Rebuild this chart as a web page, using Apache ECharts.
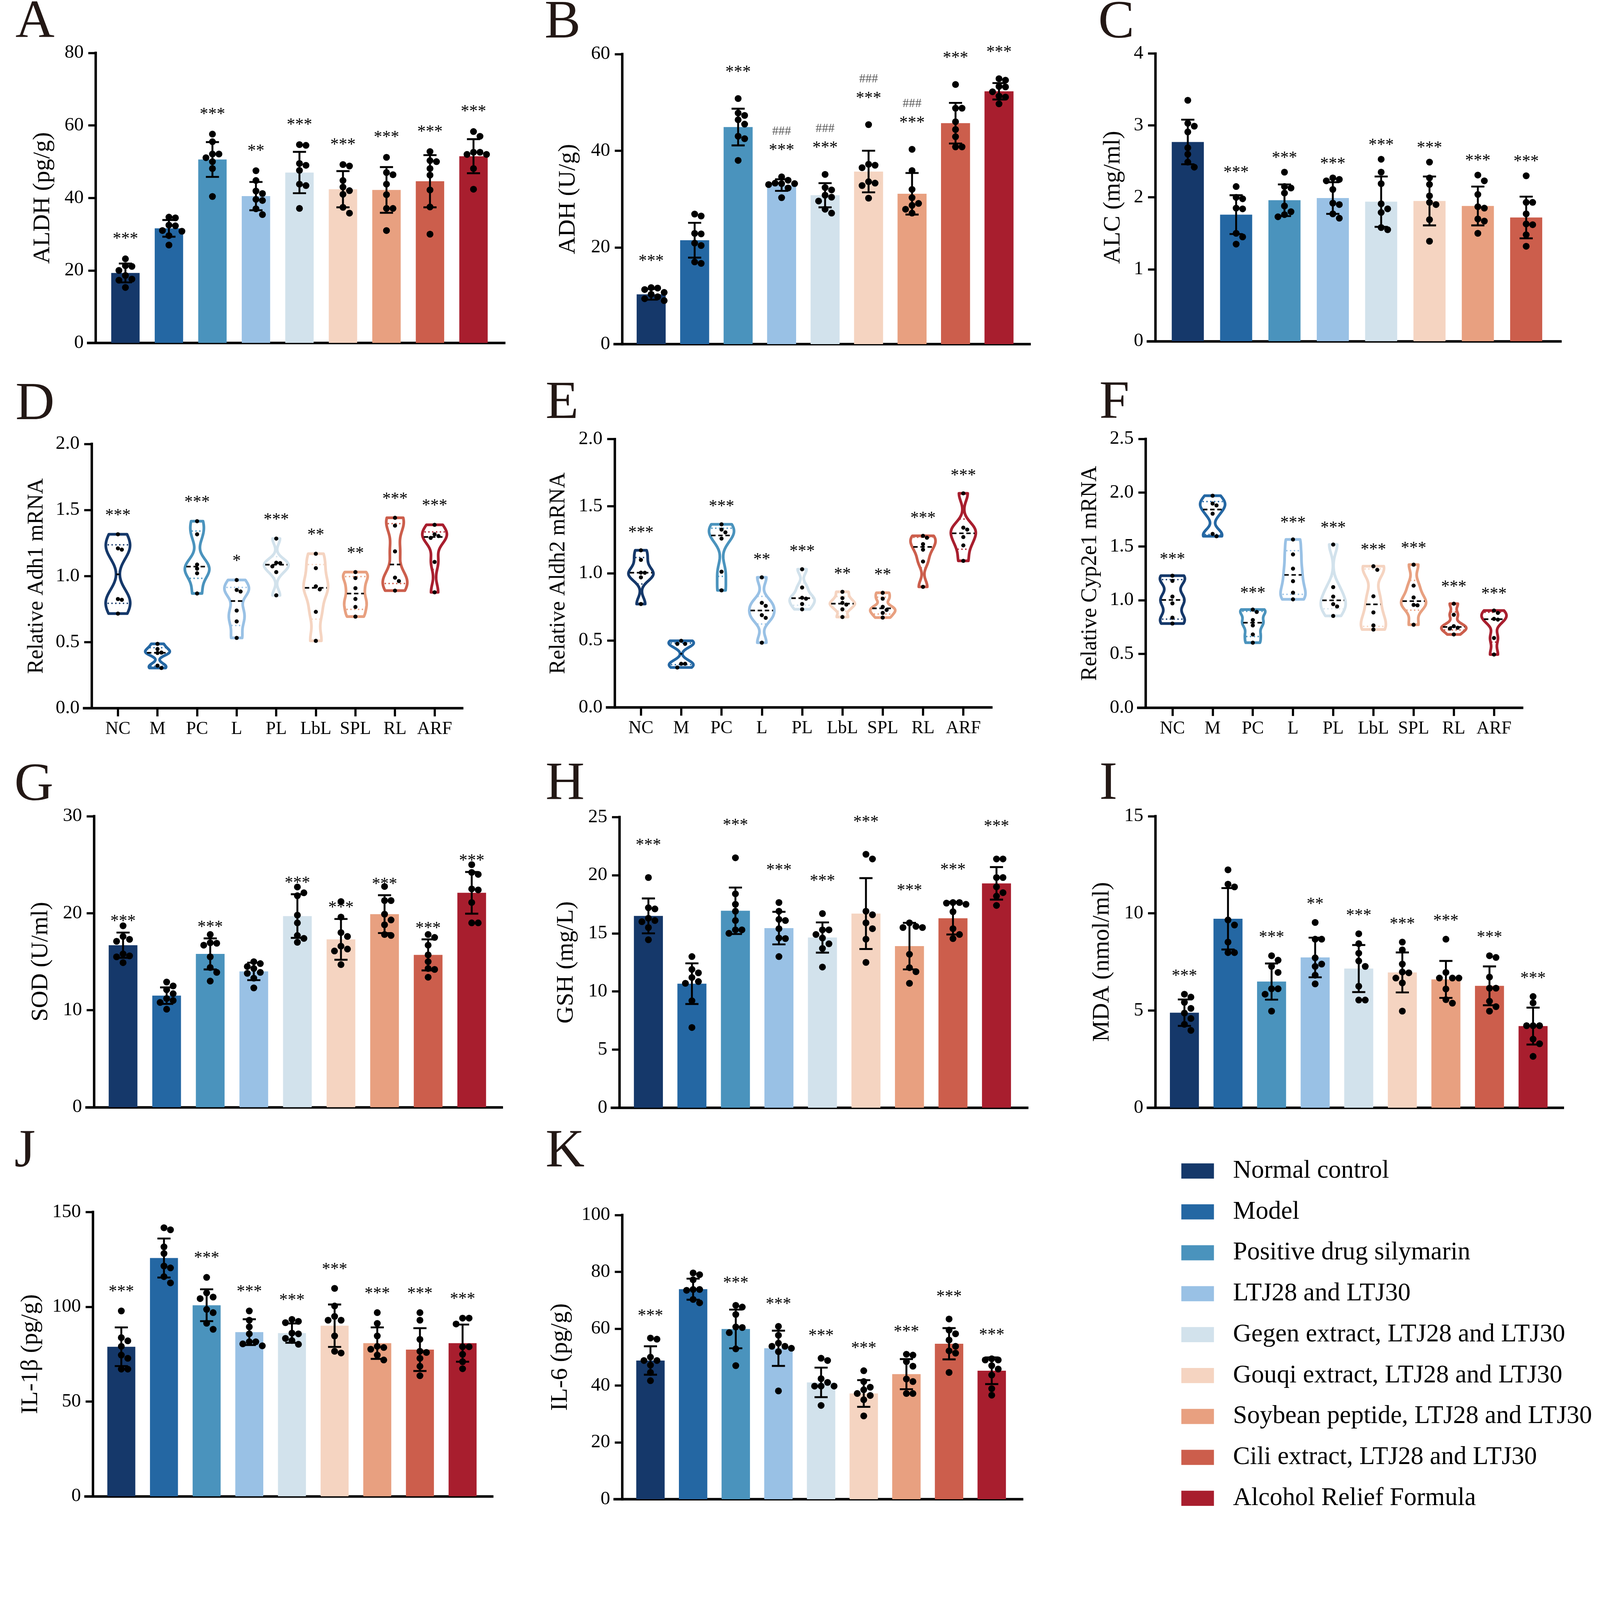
<!DOCTYPE html>
<html>
<head>
<meta charset="UTF-8">
<title>Alcohol relief markers</title>
<script src="https://cdn.jsdelivr.net/npm/echarts@6/dist/echarts.min.js"></script>
<style>
  html, body { margin: 0; padding: 0; background: #fff; overflow: hidden; }
  #main { width: 100vw; height: 100vh; }
</style>
</head>
<body>
<div id="main"></div>
<script>
// groups
var groupNames = ['Normal control', 'Model', 'Positive drug silymarin', 'LTJ28 and LTJ30',
  'Gegen extract, LTJ28 and LTJ30', 'Gouqi extract, LTJ28 and LTJ30',
  'Soybean peptide, LTJ28 and LTJ30', 'Cili extract, LTJ28 and LTJ30', 'Alcohol Relief Formula'];
var groupShort = ['NC', 'M', 'PC', 'L', 'PL', 'LbL', 'SPL', 'RL', 'ARF'];
var groupColors = ['#15386a', '#2467a3', '#4a93bd', '#99c1e5', '#d2e2ec', '#f5d4c1', '#e8a080', '#cc5e4c', '#a81e2e'];

// A - ALDH
var aldhMean = [19.3, 31.6, 50.6, 40.5, 47.0, 42.4, 42.2, 44.6, 51.5];
var aldhSd = [2.6, 2.3, 4.8, 3.9, 5.7, 5.0, 6.3, 7.2, 4.7];
var aldhPts = [
  [23.2, 21.3, 21.1, 20.0, 18.6, 17.6, 17.3, 15.3],
  [34.7, 34.5, 32.5, 32.3, 31.0, 30.8, 29.6, 27.0],
  [57.6, 55.5, 52.1, 52.1, 51.1, 50.0, 48.1, 40.4],
  [47.5, 44.8, 41.9, 41.2, 39.6, 39.3, 37.0, 35.4],
  [54.7, 54.5, 49.5, 49.0, 47.6, 43.8, 43.4, 37.1],
  [49.2, 48.8, 44.8, 43.0, 42.0, 41.0, 37.4, 35.8],
  [51.2, 47.0, 46.4, 43.8, 40.9, 37.1, 37.1, 31.0],
  [52.8, 50.3, 50.0, 48.1, 46.3, 42.2, 37.5, 30.0],
  [58.3, 57.0, 52.6, 52.6, 52.0, 52.0, 48.1, 42.4]
];
var aldhSig = ['***', '', '***', '**', '***', '***', '***', '***', '***'];

// B - ADH
var adhMean = [10.3, 21.5, 44.9, 32.9, 30.8, 35.7, 31.1, 45.7, 52.3];
var adhSd = [1.1, 3.6, 3.8, 1.2, 2.5, 4.3, 4.3, 4.2, 1.7];
var adhPts = [
  [11.7, 11.6, 11.3, 10.7, 10.3, 9.8, 9.4, 9.0],
  [26.9, 26.5, 22.9, 22.8, 20.9, 20.4, 17.0, 16.7],
  [50.8, 47.8, 47.3, 46.4, 45.5, 43.0, 42.5, 38.0],
  [34.6, 33.9, 33.3, 33.2, 33.2, 33.0, 32.3, 30.3],
  [35.1, 32.4, 31.9, 30.8, 30.4, 29.6, 27.9, 27.1],
  [45.4, 37.2, 37.0, 36.5, 33.6, 33.3, 32.8, 30.2],
  [40.3, 35.9, 32.0, 30.3, 29.1, 28.7, 27.9, 27.1],
  [53.7, 48.8, 48.8, 46.0, 44.4, 42.9, 40.8, 40.8],
  [54.9, 54.6, 53.3, 53.2, 52.2, 51.3, 51.1, 49.7]
];
var adhSig = ['***', '', '***', '***', '***', '***', '***', '***', '***'];
var adhHash = ['', '', '', '###', '###', '###', '###', '', ''];

// C - ALC (no ARF group)
var alcMean = [2.77, 1.76, 1.96, 1.99, 1.94, 1.95, 1.88, 1.72];
var alcSd = [0.31, 0.27, 0.22, 0.22, 0.35, 0.34, 0.27, 0.29];
var alcPts = [
  [3.35, 3.03, 2.99, 2.91, 2.69, 2.60, 2.49, 2.42],
  [2.15, 2.00, 1.98, 1.85, 1.84, 1.50, 1.45, 1.35],
  [2.35, 2.15, 2.13, 2.06, 1.88, 1.80, 1.76, 1.73],
  [2.27, 2.25, 2.23, 2.11, 1.92, 1.90, 1.77, 1.71],
  [2.53, 2.35, 2.19, 1.91, 1.84, 1.79, 1.58, 1.55],
  [2.49, 2.27, 2.18, 2.02, 1.93, 1.90, 1.69, 1.39],
  [2.31, 2.23, 2.04, 1.87, 1.85, 1.70, 1.67, 1.50],
  [2.30, 1.93, 1.93, 1.77, 1.63, 1.62, 1.48, 1.32]
];
var alcSig = ['', '***', '***', '***', '***', '***', '***', '***'];

// D - Adh1 mRNA
var adh1Pts = [
  [1.316, 1.21, 1.20, 0.826, 0.82, 0.716],
  [0.487, 0.448, 0.421, 0.418, 0.322, 0.304],
  [1.415, 1.316, 1.087, 1.056, 1.021, 0.868],
  [0.970, 0.895, 0.883, 0.739, 0.657, 0.532],
  [1.284, 1.101, 1.098, 1.074, 1.030, 0.854],
  [1.169, 1.060, 0.922, 0.899, 0.729, 0.510],
  [1.030, 0.985, 0.908, 0.827, 0.766, 0.693],
  [1.441, 1.382, 1.187, 0.988, 0.962, 0.890],
  [1.388, 1.316, 1.303, 1.289, 1.107, 0.877]
];
var adh1Sig = ['***', '', '***', '*', '***', '**', '**', '***', '***'];

// E - Aldh2 mRNA
var aldh2Pts = [
  [1.171, 1.100, 1.005, 1.004, 0.970, 0.771],
  [0.497, 0.474, 0.474, 0.326, 0.326, 0.298],
  [1.365, 1.326, 1.305, 1.259, 1.012, 0.873],
  [0.970, 0.780, 0.757, 0.688, 0.668, 0.483],
  [1.030, 0.894, 0.818, 0.811, 0.771, 0.732],
  [0.862, 0.815, 0.780, 0.767, 0.732, 0.674],
  [0.855, 0.811, 0.750, 0.727, 0.705, 0.670],
  [1.279, 1.265, 1.217, 1.176, 1.088, 0.899],
  [1.596, 1.340, 1.326, 1.270, 1.208, 1.093]
];
var aldh2Sig = ['***', '', '***', '**', '***', '**', '**', '***', '***'];

// F - Cyp2e1 mRNA
var cypPts = [
  [1.228, 1.180, 1.034, 0.971, 0.838, 0.783],
  [1.972, 1.899, 1.882, 1.805, 1.617, 1.595],
  [0.913, 0.891, 0.816, 0.766, 0.682, 0.605],
  [1.565, 1.426, 1.294, 1.177, 1.070, 1.008],
  [1.518, 1.122, 1.034, 0.964, 0.942, 0.854],
  [1.316, 1.283, 1.037, 0.887, 0.766, 0.728],
  [1.331, 1.136, 1.026, 0.957, 0.953, 0.772],
  [0.968, 0.865, 0.759, 0.744, 0.737, 0.682],
  [0.904, 0.882, 0.827, 0.820, 0.649, 0.495]
];
var cypSig = ['***', '', '***', '***', '***', '***', '***', '***', '***'];

// G - SOD
var sodMean = [16.7, 11.5, 15.8, 14.0, 19.7, 17.3, 19.9, 15.7, 22.1];
var sodSd = [1.3, 0.85, 1.6, 0.9, 2.25, 2.1, 1.95, 1.6, 2.15];
var sodPts = [
  [18.7, 17.6, 17.3, 17.1, 15.8, 15.6, 15.5, 14.9],
  [12.9, 12.5, 12.1, 11.7, 11.2, 11.0, 10.8, 10.1],
  [17.8, 16.95, 16.9, 16.7, 15.5, 14.4, 13.9, 13.0],
  [15.0, 14.8, 14.5, 14.3, 13.9, 13.8, 13.3, 12.3],
  [22.7, 22.1, 21.8, 19.8, 19.0, 17.7, 17.4, 17.0],
  [21.2, 19.6, 18.0, 17.6, 16.6, 16.3, 16.1, 14.7],
  [22.75, 21.3, 21.3, 19.9, 19.3, 18.8, 17.8, 17.7],
  [17.8, 17.5, 16.7, 15.7, 15.0, 14.3, 14.2, 13.4],
  [25.0, 24.2, 24.0, 22.5, 22.4, 21.1, 19.0, 19.0]
];
var sodSig = ['***', '', '***', '', '***', '***', '***', '***', '***'];

// H - GSH
var gshMean = [16.5, 10.67, 16.94, 15.45, 14.64, 16.7, 13.9, 16.3, 19.3];
var gshSd = [1.5, 1.75, 2.0, 1.4, 1.3, 3.05, 2.0, 1.4, 1.4];
var gshPts = [
  [19.8, 17.2, 17.1, 16.3, 16.1, 16.0, 15.5, 14.45],
  [13.0, 11.9, 11.6, 11.2, 10.85, 10.7, 9.2, 6.9],
  [21.5, 18.4, 17.5, 16.9, 16.1, 15.3, 15.3, 15.0],
  [17.65, 16.9, 16.2, 16.1, 15.4, 14.6, 14.55, 13.0],
  [16.7, 15.3, 15.3, 14.9, 14.6, 14.1, 13.7, 12.1],
  [21.8, 21.4, 16.9, 16.6, 15.9, 15.4, 14.5, 12.5],
  [15.9, 15.6, 15.5, 15.5, 13.2, 12.05, 11.7, 10.7],
  [17.65, 17.65, 17.6, 17.5, 16.86, 15.4, 14.9, 14.55],
  [21.4, 21.4, 19.8, 19.8, 19.0, 18.5, 18.2, 17.4]
];
var gshSig = ['***', '', '***', '***', '***', '***', '***', '***', '***'];

// I - MDA
var mdaMean = [4.89, 9.72, 6.49, 7.73, 7.16, 6.96, 6.60, 6.27, 4.20];
var mdaSd = [0.68, 1.58, 0.93, 1.02, 1.21, 1.03, 0.95, 1.0, 0.95];
var mdaPts = [
  [5.84, 5.69, 5.42, 5.11, 4.87, 4.59, 4.29, 3.98],
  [12.24, 11.5, 11.36, 9.66, 9.40, 8.52, 7.98, 7.98],
  [7.82, 7.59, 7.27, 6.96, 6.12, 6.12, 5.84, 4.97],
  [9.53, 8.67, 8.67, 7.71, 7.39, 7.27, 6.82, 6.37],
  [8.95, 8.44, 7.95, 7.55, 7.27, 6.25, 5.54, 5.54],
  [8.52, 8.12, 7.39, 6.98, 6.94, 6.67, 6.42, 4.97],
  [8.67, 6.96, 6.67, 6.67, 6.67, 6.11, 5.56, 5.38],
  [7.82, 7.73, 6.72, 6.15, 6.15, 5.48, 5.20, 4.97],
  [5.72, 5.39, 4.22, 4.22, 4.22, 3.53, 3.29, 2.64]
];
var mdaSig = ['***', '', '***', '**', '***', '***', '***', '***', '***'];

// J - IL-1b
var il1bMean = [78.9, 125.7, 100.8, 86.6, 86.1, 90.0, 80.8, 77.4, 80.8];
var il1bSd = [10.2, 10.3, 8.4, 6.8, 5.1, 11.2, 8.3, 11.3, 9.8];
var il1bPts = [
  [97.8, 83.7, 82.0, 79.1, 74.5, 72.8, 67.1, 67.1],
  [141.7, 140.6, 131.6, 128.1, 121.5, 120.5, 115.9, 112.6],
  [115.5, 107.3, 105.1, 104.3, 98.6, 96.9, 91.3, 88.1],
  [97.8, 92.9, 89.4, 85.7, 81.5, 81.5, 80.4, 79.4],
  [93.3, 92.3, 91.6, 86.1, 85.7, 83.3, 82.2, 80.2],
  [109.7, 100.4, 94.9, 92.9, 92.9, 84.6, 76.5, 75.6],
  [96.9, 91.2, 84.6, 79.1, 78.5, 77.6, 74.5, 71.9],
  [96.9, 92.9, 82.8, 76.5, 75.9, 72.8, 68.6, 63.6],
  [94.0, 94.0, 90.9, 78.9, 78.9, 74.9, 71.0, 67.3]
];
var il1bSig = ['***', '', '***', '***', '***', '***', '***', '***', '***'];

// K - IL-6
var il6Mean = [48.8, 73.9, 59.9, 53.1, 41.1, 37.2, 44.0, 54.7, 45.2];
var il6Sd = [5.0, 3.7, 6.8, 6.2, 5.2, 4.7, 5.3, 5.5, 4.7];
var il6Pts = [
  [56.7, 56.3, 50.0, 48.8, 48.8, 47.2, 44.6, 41.7],
  [79.6, 79.0, 77.2, 73.8, 73.8, 73.5, 70.3, 69.1],
  [68.2, 67.6, 65.0, 60.6, 60.4, 58.6, 52.9, 47.0],
  [60.8, 57.7, 54.9, 53.8, 53.8, 53.1, 51.9, 38.1],
  [49.6, 48.8, 42.4, 41.1, 39.8, 39.8, 39.8, 33.0],
  [45.2, 41.4, 39.4, 38.5, 37.2, 36.5, 35.0, 29.3],
  [51.0, 50.7, 48.4, 46.8, 42.3, 41.4, 37.2, 37.2],
  [63.4, 59.5, 58.2, 56.0, 53.8, 52.2, 51.4, 44.6],
  [49.4, 49.0, 49.0, 47.0, 45.8, 43.7, 38.9, 36.6]
];
var il6Sig = ['***', '', '***', '***', '***', '***', '***', '***', '***'];

// layout is measured on a 1560px-wide copy of the figure; S scales it to the page,
// U scales sizes that were worked out for the full 5851px width
var S = window.innerWidth / 1560.27;
var U = S / 3.75;
var TICK = 7.3;
var FONT = "'Liberation Serif', 'Times New Roman', serif";
function px(v) { return v * S; }
function u(v) { return v * U; }

var panels = [
  { letter: 'A', title: 'ALDH (pg/g)', mean: aldhMean, sd: aldhSd, pts: aldhPts, sig: aldhSig, yMax: 80, yStep: 20, gap: 0.067,
    box: { ax: 93.3, top: 51.6, bot: 334.4, right: 491.7, c0: 122.3, dx: 42.43, barW: 27.7, lx: 15, ly: 22, tx: 41.7 } },
  { letter: 'B', title: 'ADH (U/g)', mean: adhMean, sd: adhSd, pts: adhPts, sig: adhSig, hash: adhHash, yMax: 60, yStep: 20, gap: 0.09,
    box: { ax: 606.7, top: 52.7, bot: 335.6, right: 1004, c0: 635, dx: 42.4, barW: 28.3, lx: 531, ly: 22.6, tx: 554 } },
  { letter: 'C', title: 'ALC (mg/ml)', mean: alcMean, sd: alcSd, pts: alcPts, sig: alcSig, yMax: 4, yStep: 1, gap: 0.048,
    box: { ax: 1126.7, top: 52.2, bot: 332.7, right: 1521.7, c0: 1158.3, dx: 47.14, barW: 31.3, lx: 1071, ly: 22.6, tx: 1085.7 } },
  { letter: 'D', title: 'Relative Adh1 mRNA', violin: true, pts: adh1Pts, sig: adh1Sig, yMax: 2, yStep: 0.5, dec: 1, gap: 0.07,
    box: { ax: 89.3, top: 432.9, bot: 690.6, right: 450.7, c0: 115, dx: 38.6, lx: 15, ly: 394.7, tx: 35.8 } },
  { letter: 'E', title: 'Relative Aldh2 mRNA', violin: true, pts: aldh2Pts, sig: aldh2Sig, yMax: 2, yStep: 0.5, dec: 1, gap: 0.065,
    box: { ax: 599.3, top: 428.2, bot: 689.9, right: 966.7, c0: 625, dx: 39.3, lx: 532, ly: 393.7, tx: 545 } },
  { letter: 'F', title: 'Relative Cyp2e1 mRNA', violin: true, pts: cypPts, sig: cypSig, yMax: 2.5, yStep: 0.5, dec: 1, gap: 0.06,
    box: { ax: 1117.3, top: 428, bot: 690.2, right: 1484.3, c0: 1143.3, dx: 39.2, lx: 1072, ly: 393.7, tx: 1063.3 } },
  { letter: 'G', title: 'SOD (U/ml)', mean: sodMean, sd: sodSd, pts: sodPts, sig: sodSig, yMax: 30, yStep: 10, gap: 0.037, fromSd: true,
    box: { ax: 91.7, top: 795.9, bot: 1079.7, right: 489.3, c0: 120, dx: 42.5, barW: 28, lx: 14, ly: 766.3, tx: 40 } },
  { letter: 'H', title: 'GSH (mg/L)', mean: gshMean, sd: gshSd, pts: gshPts, sig: gshSig, yMax: 25, yStep: 5, gap: 0.11,
    box: { ax: 604, top: 796.8, bot: 1080.2, right: 1001.7, c0: 632.3, dx: 42.43, barW: 28.3, lx: 532, ly: 765, tx: 552.3 } },
  { letter: 'I', title: 'MDA (nmol/ml)', mean: mdaMean, sd: mdaSd, pts: mdaPts, sig: mdaSig, yMax: 15, yStep: 5, gap: 0.061,
    box: { ax: 1126.7, top: 795.9, bot: 1080.2, right: 1524, c0: 1155, dx: 42.5, barW: 28.3, lx: 1072, ly: 765, tx: 1075 } },
  { letter: 'J', title: 'IL-1\u03b2 (pg/g)', mean: il1bMean, sd: il1bSd, pts: il1bPts, sig: il1bSig, yMax: 150, yStep: 50, gap: 0.066,
    box: { ax: 90.7, top: 1181.9, bot: 1459.1, right: 480, c0: 118.3, dx: 41.6, barW: 27.3, lx: 14, ly: 1123.5, tx: 30 } },
  { letter: 'K', title: 'IL-6 (pg/g)', mean: il6Mean, sd: il6Sd, pts: il6Pts, sig: il6Sig, yMax: 100, yStep: 20, gap: 0.077,
    box: { ax: 606.7, top: 1184.8, bot: 1462, right: 996.7, c0: 634.3, dx: 41.6, barW: 27.7, lx: 532, ly: 1123.5, tx: 546.7 } }
];

function maxOf(a) { return Math.max.apply(null, a); }
function minOf(a) { return Math.min.apply(null, a); }

// quartiles the (n+1)p way
function quant(sorted, p) {
  var n = sorted.length, pos = p * (n + 1);
  if (pos <= 1) return sorted[0];
  if (pos >= n) return sorted[n - 1];
  var i = Math.floor(pos), f = pos - i;
  return sorted[i - 1] + f * (sorted[i] - sorted[i - 1]);
}

function kde(vals, t, h) {
  var s = 0;
  for (var i = 0; i < vals.length; i++) {
    var z = (t - vals[i]) / h;
    s += Math.exp(-0.5 * z * z);
  }
  return s;
}

function bandwidth(sorted) {
  var n = sorted.length, m = 0, v = 0, i;
  for (i = 0; i < n; i++) m += sorted[i];
  m /= n;
  for (i = 0; i < n; i++) v += (sorted[i] - m) * (sorted[i] - m);
  var sd = Math.sqrt(v / (n - 1));
  var iqr = (quant(sorted, 0.75) - quant(sorted, 0.25)) / 1.34;
  var s = iqr > 0 ? Math.min(sd, iqr) : sd;
  return 0.55 * 0.9 * s * Math.pow(n, -0.2);
}

// spread the dots sideways so they do not sit on top of each other
function swarm(groups, pxX, pxY, dot) {
  var out = [];
  groups.forEach(function (vals, j) {
    var placed = [];
    vals.slice().sort(function (a, b) { return b - a; }).forEach(function (v) {
      var off = 0;
      for (var k = 0; k < 14; k++) {
        off = (k % 2 ? 1 : -1) * Math.ceil(k / 2) * dot * 0.95;
        var ok = placed.every(function (p) {
          var ddx = p[0] - off, ddy = (p[1] - v) * pxY;
          return ddx * ddx + ddy * ddy >= dot * dot * 0.85;
        });
        if (ok) break;
      }
      placed.push([off, v]);
      out.push([j + off / pxX, v]);
    });
  });
  return out;
}

function errRender(params, api) {
  var hi = api.coord([api.value(0), api.value(2)]);
  var lo = api.coord([api.value(0), api.value(1)]);
  var cap = u(24);
  var st = { stroke: '#000', lineWidth: u(7) };
  return {
    type: 'group',
    children: [
      { type: 'line', shape: { x1: hi[0], y1: hi[1], x2: lo[0], y2: lo[1] }, style: st },
      { type: 'line', shape: { x1: hi[0] - cap, y1: hi[1], x2: hi[0] + cap, y2: hi[1] }, style: st },
      { type: 'line', shape: { x1: lo[0] - cap, y1: lo[1], x2: lo[0] + cap, y2: lo[1] }, style: st }
    ]
  };
}

function textRender(texts, size, color) {
  return function (params, api) {
    var txt = texts[params.dataIndex];
    if (!txt) return null;
    var p = api.coord([api.value(0), api.value(1)]);
    return {
      type: 'text', x: p[0], y: p[1],
      style: { text: txt, fill: color, font: u(size) + 'px ' + FONT, align: 'center', verticalAlign: 'middle' }
    };
  };
}

function violinRender(pn) {
  var half = px(pn.box.dx) * 0.31;
  return function (params, api) {
    var j = api.value(0);
    var vals = pn.pts[j].slice().sort(function (a, b) { return a - b; });
    var lo = vals[0], hi = vals[vals.length - 1];
    var h = bandwidth(vals);
    var N = 60, ts = [], ds = [], dmax = 0, k;
    for (k = 0; k <= N; k++) {
      var t = lo + (hi - lo) * k / N, d = kde(vals, t, h);
      ts.push(t); ds.push(d);
      if (d > dmax) dmax = d;
    }
    var cx = api.coord([j, 0])[0];
    var left = [], right = [];
    for (k = 0; k <= N; k++) {
      var y = api.coord([j, ts[k]])[1], w = ds[k] / dmax * half;
      left.push([cx - w, y]);
      right.unshift([cx + w, y]);
    }
    function hline(v, stroke, lw, dash, shrink) {
      var w = kde(vals, v, h) / dmax * half * shrink, y = api.coord([j, v])[1];
      return { type: 'line', shape: { x1: cx - w, y1: y, x2: cx + w, y2: y },
        style: { stroke: stroke, lineWidth: u(lw), lineDash: [u(dash[0]), u(dash[1])] } };
    }
    var col = groupColors[j];
    return {
      type: 'group',
      children: [
        { type: 'polygon', shape: { points: left.concat(right) },
          style: { fill: '#fff', stroke: col, lineWidth: u(10), lineJoin: 'round' } },
        hline(quant(vals, 0.25), col, 5, [5, 9], 0.85),
        hline(quant(vals, 0.75), col, 5, [5, 9], 0.85),
        hline(quant(vals, 0.5), '#000', 6, [16, 10], 0.9)
      ]
    };
  };
}

var grids = [], xAxes = [], yAxes = [], series = [], graphics = [];

panels.forEach(function (pn, i) {
  var b = pn.box;
  var n = pn.pts.length;
  var gl = b.ax - TICK;
  var cats = pn.pts.map(function (g, j) { return j; });

  grids.push({ left: px(gl), top: px(b.top), width: px(b.right - gl), height: px(b.bot - b.top), containLabel: false });

  xAxes.push({
    type: 'value', gridIndex: i,
    min: -(b.c0 - gl) / b.dx,
    max: (n - 1) + (b.right - (b.c0 + (n - 1) * b.dx)) / b.dx,
    axisLine: { show: true, onZero: false, lineStyle: { color: '#000', width: u(9), cap: 'square' } },
    axisTick: { show: !!pn.violin, customValues: cats, length: u(30), lineStyle: { color: '#000', width: u(8) } },
    axisLabel: {
      show: !!pn.violin, customValues: cats, margin: u(44),
      fontFamily: FONT, fontSize: u(66), color: '#000',
      formatter: function (v) { return groupShort[Math.round(v)]; }
    },
    splitLine: { show: false }
  });

  yAxes.push({
    type: 'value', gridIndex: i, min: 0, max: pn.yMax, interval: pn.yStep,
    offset: -px(TICK),
    axisLine: { show: true, onZero: false, lineStyle: { color: '#000', width: u(9), cap: 'square' } },
    axisTick: { show: true, length: u(27), lineStyle: { color: '#000', width: u(8) } },
    axisLabel: {
      margin: u(44), fontFamily: FONT, fontSize: u(70), color: '#000',
      formatter: function (v) { return pn.dec ? v.toFixed(pn.dec) : String(v); }
    },
    splitLine: { show: false }
  });

  var pxY = px(b.bot - b.top) / pn.yMax;
  var pxX = px(b.dx);
  var dot = u(pn.violin ? 15 : 25);

  if (!pn.violin) {
    series.push({
      type: 'bar', xAxisIndex: i, yAxisIndex: i, barWidth: px(b.barW), silent: true, z: 2,
      data: pn.mean.map(function (m, j) { return { value: [j, m], itemStyle: { color: groupColors[j] } }; })
    });
    series.push({
      type: 'custom', xAxisIndex: i, yAxisIndex: i, silent: true, z: 4, renderItem: errRender,
      data: pn.mean.map(function (m, j) { return [j, m - pn.sd[j], m + pn.sd[j]]; })
    });
  } else {
    series.push({
      type: 'custom', xAxisIndex: i, yAxisIndex: i, silent: true, z: 2, renderItem: violinRender(pn),
      data: cats.map(function (j) { return [j, minOf(pn.pts[j]), maxOf(pn.pts[j])]; })
    });
  }

  series.push({
    type: 'scatter', xAxisIndex: i, yAxisIndex: i, silent: true, z: 5,
    symbol: 'circle', symbolSize: dot, itemStyle: { color: '#000', opacity: 1 },
    data: swarm(pn.pts, pxX, pxY, dot)
  });

  var starY = cats.map(function (j) {
    var base = pn.fromSd ? pn.mean[j] + pn.sd[j] : maxOf(pn.pts[j]);
    if (!pn.violin && !pn.fromSd) base = Math.max(base, pn.mean[j] + pn.sd[j]);
    return base + pn.gap * pn.yMax;
  });
  series.push({
    type: 'custom', xAxisIndex: i, yAxisIndex: i, silent: true, z: 6, renderItem: textRender(pn.sig, 62, '#000'),
    data: cats.map(function (j) { return [j, starY[j]]; })
  });
  if (pn.hash) {
    series.push({
      type: 'custom', xAxisIndex: i, yAxisIndex: i, silent: true, z: 6, renderItem: textRender(pn.hash, 46, '#555'),
      data: cats.map(function (j) { return [j, starY[j] + 0.067 * pn.yMax]; })
    });
  }

  graphics.push({
    type: 'text', x: px(b.lx), y: px(b.ly),
    style: { text: pn.letter, font: u(198) + 'px ' + FONT, fill: '#231815', align: 'left', verticalAlign: 'middle' }
  });
  graphics.push({
    type: 'text', x: px(b.tx), y: px((b.top + b.bot) / 2), rotation: Math.PI / 2,
    style: { text: pn.title, font: u(pn.violin ? 80 : 88) + 'px ' + FONT, fill: '#000', align: 'center', verticalAlign: 'middle' }
  });
});

// empty series only carry the legend swatches
groupNames.forEach(function (name, j) {
  series.push({ type: 'scatter', name: name, xAxisIndex: 0, yAxisIndex: 0, data: [],
    itemStyle: { color: groupColors[j], opacity: 1 } });
});

var legendFont = u(93);
var chart = echarts.init(document.getElementById('main'), null, { renderer: 'canvas' });
chart.setOption({
  animation: false,
  backgroundColor: '#fff',
  grid: grids,
  xAxis: xAxes,
  yAxis: yAxes,
  legend: {
    orient: 'vertical', left: px(1152), top: px(1141.9) - legendFont / 2, padding: 0,
    itemWidth: px(31.8), itemHeight: px(14.8), itemGap: px(39.9) - legendFont,
    icon: 'rect', selectedMode: false, itemStyle: { opacity: 1 },
    textStyle: { fontFamily: FONT, fontSize: legendFont, color: '#000', lineHeight: legendFont,
      padding: [0, 0, 0, px(1202.4 - 1152 - 31.8) - 5] },
    data: groupNames
  },
  graphic: graphics,
  series: series
});
</script>
</body>
</html>
